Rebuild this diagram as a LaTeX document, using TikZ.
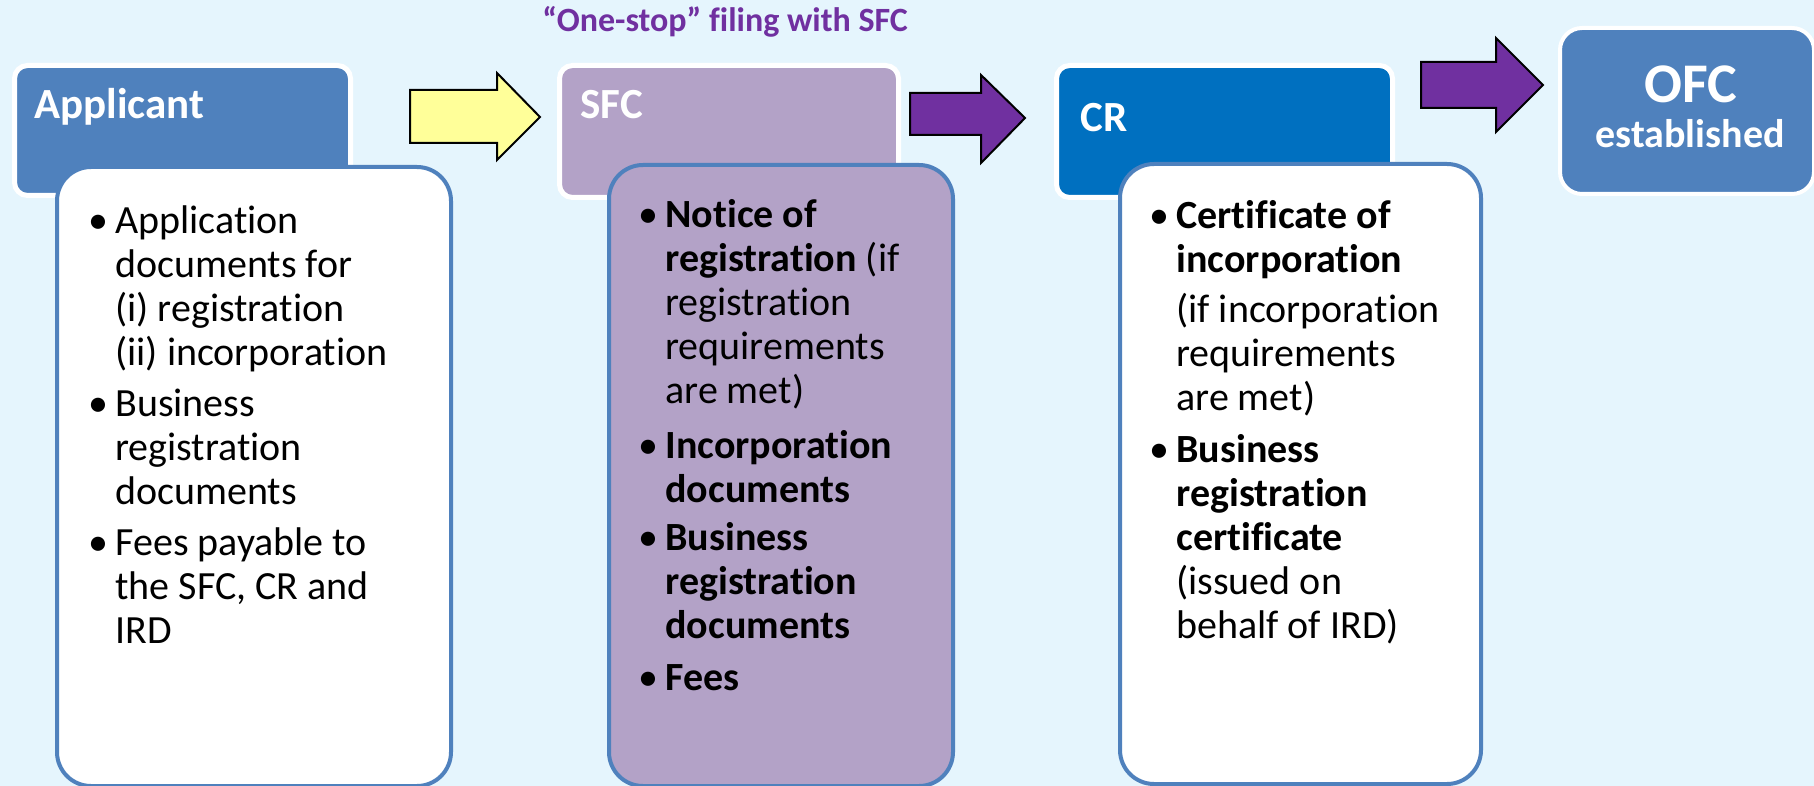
\documentclass[tikz,border=0pt]{standalone}
\usepackage{fontspec}
\setmainfont{Carlito}[Ligatures=NoCommon]
\definecolor{bg}{HTML}{E5F5FD}
\definecolor{steel}{HTML}{4F81BD}
\definecolor{lav}{HTML}{B3A2C7}
\definecolor{crblue}{HTML}{0070C0}
\definecolor{violet}{HTML}{7030A0}
\definecolor{pale}{HTML}{FFFF99}
\begin{document}
\begin{tikzpicture}[x=0.5pt,y=-0.5pt,
  head/.style={draw=white, line width=2.5pt, rounded corners=6.5pt,
    anchor=north west, inner sep=0pt},
  panel/.style={draw=steel, line width=2pt, rounded corners=17pt,
    anchor=north west, inner sep=0pt},
  blockarrow/.style={draw=black, line width=1pt, line join=miter},
  headtext/.style={anchor=base west, inner sep=0pt, text=white,
    font=\fontsize{21.5}{25}\selectfont\bfseries},
  % multi-line items are placed by the baseline of their last line
  itm/.style={anchor=base west, inner sep=0pt, align=left,
    font=\fontsize{20}{22}\selectfont}
]
\newcommand{\bul}{\llap{\textbullet\hspace{3.5pt}}}
% page and background
\fill[bg] (0,0) rectangle (1814,786);
\useasboundingbox (0,0) rectangle (1814,786);

% heading above the SFC column
\node[anchor=base west, inner sep=0pt, text=violet,
  font=\fontsize{17}{20}\selectfont\bfseries] (title) at (542,32)
  {“One-stop” filing with SFC};

% stage headers
\node[head, fill=steel, minimum width=168pt, minimum height=65pt] (apphead) at (12,63) {};
\node[head, fill=lav, minimum width=169.5pt, minimum height=66pt] (sfchead) at (557,63) {};
\node[head, fill=crblue, minimum width=168pt, minimum height=66pt] (crhead) at (1054,63) {};
\node[head, draw=white, line width=2pt, rounded corners=11pt, fill=steel,
  minimum width=127pt, minimum height=83pt] (ofc) at (1558,26) {};

\node[headtext] (applbl) at (34,119) {Applicant};
\node[headtext] (sfclbl) at (580,119) {SFC};
\node[headtext] (crlbl) at (1080,132) {CR};
\node[anchor=base, inner sep=0pt, text=white,
  font=\fontsize{28}{32}\selectfont\bfseries] (ofclbl) at (1691,103) {OFC};
\node[anchor=base, inner sep=0pt, text=white,
  font=\fontsize{20}{24}\selectfont\bfseries] (ofcsub) at (1690,148) {established};

% block arrows between stages
\draw[blockarrow, fill=pale] (410,90) -- (497,90) -- (497,73) -- (540,117)
  -- (497,160) -- (497,143) -- (410,143) -- cycle;
\draw[blockarrow, fill=violet] (910,93) -- (981,93) -- (981,75) -- (1025,118)
  -- (981,163) -- (981,135) -- (910,135) -- cycle;
\draw[blockarrow, fill=violet] (1421,62) -- (1496,62) -- (1496,38) -- (1543,85)
  -- (1496,132) -- (1496,108) -- (1421,108) -- cycle;

% detail panels
\node[panel, fill=white, minimum width=197pt, minimum height=309.5pt] (apppanel) at (55,165) {};
\node[panel, fill=lav, minimum width=172pt, minimum height=310.5pt] (sfcpanel) at (607,163) {};
\node[panel, fill=white, minimum width=180.5pt, minimum height=310pt] (crpanel) at (1118,162) {};

% Applicant items
\node[itm] (a1) at (115,365) {\bul Application\\documents for\\(i) registration\\(ii) incorporation};
\node[itm] (a2) at (115,504) {\bul Business\\registration\\documents};
\node[itm] (a3) at (115,643) {\bul Fees payable to\\the SFC, CR and\\IRD};

% SFC items
\node[itm] (s1) at (665,403) {\bul\textbf{Notice of}\\\textbf{registration} (if\\registration\\requirements\\are met)};
\node[itm] (s2) at (665,502) {\bul\textbf{Incorporation}\\\textbf{documents}};
\node[itm] (s3) at (665,638) {\bul\textbf{Business}\\\textbf{registration}\\\textbf{documents}};
\node[itm] (s4) at (665,690) {\bul\textbf{Fees}};

% CR items
\node[itm] (c1) at (1176,272) {\bul\textbf{Certificate of}\\\textbf{incorporation}};
\node[itm] (c2) at (1176,410) {(if incorporation\\requirements\\are met)};
\node[itm] (c3) at (1176,638) {\bul\textbf{Business}\\\textbf{registration}\\\textbf{certificate}\\(issued on\\behalf of IRD)};
\end{tikzpicture}
\end{document}
